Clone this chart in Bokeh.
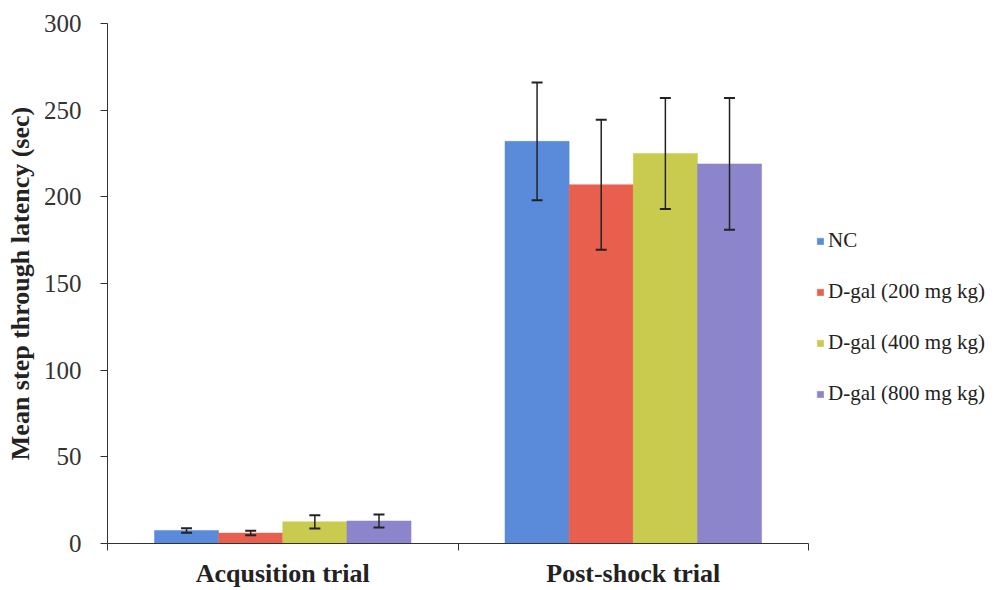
from bokeh.plotting import figure
from bokeh.models import (ColumnDataSource, FixedTicker, Whisker, TeeHead,
                          Legend, LegendItem, Range1d)
from bokeh.transform import dodge
from bokeh.embed import file_html
from bokeh.resources import INLINE

# Trial groups and treatment series
groups = ["Acqusition trial", "Post-shock trial"]
series = ["NC", "D-gal (200 mg kg)", "D-gal (400 mg kg)", "D-gal (800 mg kg)"]
colors = ["#5A8BDA", "#E8604D", "#C8CB4E", "#8D85CC"]

# Mean step-through latency (sec) per group
nc = [7.5, 232]
dgal_200 = [6, 207]
dgal_400 = [12.5, 225]
dgal_800 = [13, 219]

# Error bar half-widths (sec)
nc_err = [1.3, 34]
dgal_200_err = [1.3, 37.5]
dgal_400_err = [3.8, 32]
dgal_800_err = [3.8, 38]

y_ticks = [0, 50, 100, 150, 200, 250, 300]

means = [nc, dgal_200, dgal_400, dgal_800]
errs = [nc_err, dgal_200_err, dgal_400_err, dgal_800_err]

SERIF = "Liberation Serif"
bar_w = 0.183
centers = [i + 0.5 for i in range(len(groups))]

# The plot area runs to the right edge so the legend can live beside the bars;
# the x axis line itself is bounded to the two groups.
p = figure(width=997, height=590, output_backend="svg", toolbar_location=None,
           x_range=Range1d(0, 2.539), y_range=Range1d(0, 300),
           min_border_left=107, min_border_right=0,
           min_border_top=23, min_border_bottom=46)
p.outline_line_color = None
p.xgrid.grid_line_color = None
p.ygrid.grid_line_color = None
p.background_fill_color = "white"
p.border_fill_color = "white"

items = []
for k, (name, col, m, e) in enumerate(zip(series, colors, means, errs)):
    off = (k - 1.5) * bar_w
    src = ColumnDataSource(dict(
        x=centers, top=m,
        upper=[a + b for a, b in zip(m, e)],
        lower=[a - b for a, b in zip(m, e)],
    ))
    r = p.vbar(x=dodge("x", off), top="top", bottom=0, width=bar_w,
               source=src, fill_color=col, line_color=col, line_width=0.5)
    w = Whisker(base=dodge("x", off), upper="upper", lower="lower", source=src,
                dimension="height", level="overlay",
                line_color="#222222", line_width=1.5,
                upper_head=TeeHead(size=11, line_color="#222222", line_width=2),
                lower_head=TeeHead(size=11, line_color="#222222", line_width=2))
    p.add_layout(w)
    items.append(LegendItem(label=name, renderers=[r]))

# Y axis
ya = p.yaxis[0]
ya.ticker = FixedTicker(ticks=y_ticks, minor_ticks=[])
ya.axis_label = "Mean step through latency (sec)"
ya.axis_label_text_font = SERIF
ya.axis_label_text_font_style = "bold"
ya.axis_label_text_font_size = "26px"
ya.axis_label_text_color = "#222222"
ya.axis_label_standoff = 6
ya.major_label_text_font = SERIF
ya.major_label_text_font_size = "25px"
ya.major_label_text_color = "#333333"
ya.major_label_standoff = 19
ya.major_tick_in = 0
ya.major_tick_out = 7
ya.axis_line_color = "#333333"
ya.major_tick_line_color = "#333333"

# X axis: labels at group centres, ticks at group boundaries
xa = p.xaxis[0]
xa.bounds = (0, 2)
xa.ticker = FixedTicker(ticks=centers, minor_ticks=[0, 1, 2])
xa.major_label_overrides = {c: g for c, g in zip(centers, groups)}
xa.major_label_text_font = SERIF
xa.major_label_text_font_style = "bold"
xa.major_label_text_font_size = "26px"
xa.major_label_text_color = "#222222"
xa.major_label_standoff = 8
xa.major_tick_in = 0
xa.major_tick_out = 0
xa.minor_tick_in = 0
xa.minor_tick_out = 7
xa.axis_line_color = "#333333"
xa.minor_tick_line_color = "#333333"

legend = Legend(items=items, location=(709, 137), orientation="vertical",
                glyph_width=8, glyph_height=8, label_height=20,
                spacing=26, padding=0, margin=0, label_standoff=4,
                label_text_font=SERIF, label_text_font_size="21px",
                label_text_color="#222222",
                border_line_color=None, background_fill_alpha=0)
p.add_layout(legend, "center")

open("out.html", "w").write(file_html(p, INLINE))
